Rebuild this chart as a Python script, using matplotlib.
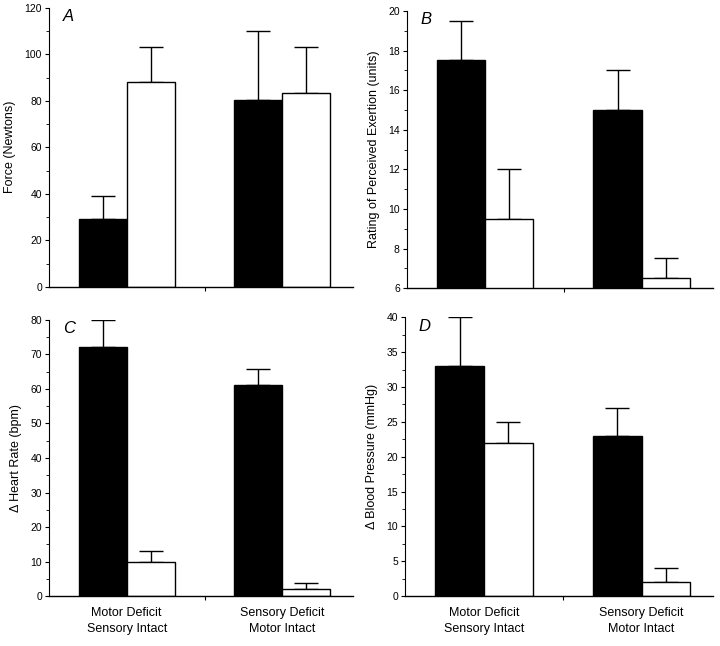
import matplotlib
matplotlib.use("Agg")
import matplotlib.pyplot as plt
from matplotlib.ticker import MultipleLocator, FixedLocator

plt.rcParams['font.family'] = ['Liberation Sans', 'DejaVu Sans']

# Data (black = first bar, white = second bar)
groups = ['Motor Deficit\nSensory Intact', 'Sensory Deficit\nMotor Intact']

force_black = [29, 80.5]
force_black_err = [10, 29.5]
force_white = [88, 83.5]
force_white_err = [15, 19.5]

rpe_black = [17.5, 15.0]
rpe_black_err = [2.0, 2.0]
rpe_white = [9.5, 6.5]
rpe_white_err = [2.5, 1.0]

hr_black = [72, 61]
hr_black_err = [8, 4.8]
hr_white = [10, 2]
hr_white_err = [3, 1.8]

bp_black = [33, 23]
bp_black_err = [7, 4]
bp_white = [22, 2]
bp_white_err = [3, 2]

panels = [
    dict(letter='A', ylabel='Force (Newtons)', ylim=(0, 120), major=20, minor=10,
         black=force_black, black_err=force_black_err,
         white=force_white, white_err=force_white_err,
         rect=[0.068, 0.556, 0.422, 0.432], xlabels=False),
    dict(letter='B', ylabel='Rating of Perceived Exertion (units)', ylim=(6, 20), major=2, minor=1,
         black=rpe_black, black_err=rpe_black_err,
         white=rpe_white, white_err=rpe_white_err,
         rect=[0.565, 0.554, 0.425, 0.429], xlabels=False),
    dict(letter='C', ylabel='\u0394 Heart Rate (bpm)', ylim=(0, 80), major=10, minor=5,
         black=hr_black, black_err=hr_black_err,
         white=hr_white, white_err=hr_white_err,
         rect=[0.068, 0.077, 0.422, 0.428], xlabels=True),
    dict(letter='D', ylabel='\u0394 Blood Pressure (mmHg)', ylim=(0, 40), major=5, minor=2.5,
         black=bp_black, black_err=bp_black_err,
         white=bp_white, white_err=bp_white_err,
         rect=[0.5625, 0.077, 0.428, 0.432], xlabels=True),
]

centers = [1.62, 4.86]
width = 1.0

fig = plt.figure(figsize=(7.2, 6.46), dpi=100)

for p in panels:
    ax = fig.add_axes(p['rect'])
    xb = [c - width / 2 for c in centers]
    xw = [c + width / 2 for c in centers]
    ax.bar(xb, p['black'], width=width, color='black', edgecolor='black',
           linewidth=1, zorder=2)
    ax.bar(xw, p['white'], width=width, color='white', edgecolor='black',
           linewidth=1, zorder=2)
    lo = [0] * len(centers)
    # only the upper half of each error bar is drawn
    ax.errorbar(xb, p['black'], yerr=[lo, p['black_err']], fmt='none', ecolor='black',
                elinewidth=1, capsize=8.5, capthick=1, zorder=1)
    ax.errorbar(xw, p['white'], yerr=[lo, p['white_err']], fmt='none', ecolor='black',
                elinewidth=1, capsize=8.5, capthick=1, zorder=1)

    ax.set_xlim(0, 6.33)
    ax.set_ylim(*p['ylim'])
    ax.yaxis.set_major_locator(MultipleLocator(p['major']))
    ax.yaxis.set_minor_locator(MultipleLocator(p['minor']))
    ax.tick_params(axis='y', which='major', direction='out', length=3, width=0.8,
                   labelsize=7.5, pad=2)
    ax.tick_params(axis='y', which='minor', direction='out', length=2, width=0.6)

    ax.xaxis.set_major_locator(FixedLocator([3.25]))
    ax.tick_params(axis='x', which='major', direction='out', length=3, width=0.8,
                   labelbottom=False)
    if p['xlabels']:
        for c, g in zip(centers, groups):
            ax.text(c, -0.04, g, transform=ax.get_xaxis_transform(), ha='center',
                    va='top', fontsize=9, linespacing=1.45)

    ax.spines['top'].set_visible(False)
    ax.spines['right'].set_visible(False)
    ax.spines['left'].set_linewidth(0.8)
    ax.spines['bottom'].set_linewidth(1.0)

    ax.set_ylabel(p['ylabel'], fontsize=9, labelpad=6)
    ax.text(0.045, 0.995, p['letter'], transform=ax.transAxes, fontsize=12,
            fontstyle='italic', ha='left', va='top')

fig.savefig('out.png', dpi=100)
